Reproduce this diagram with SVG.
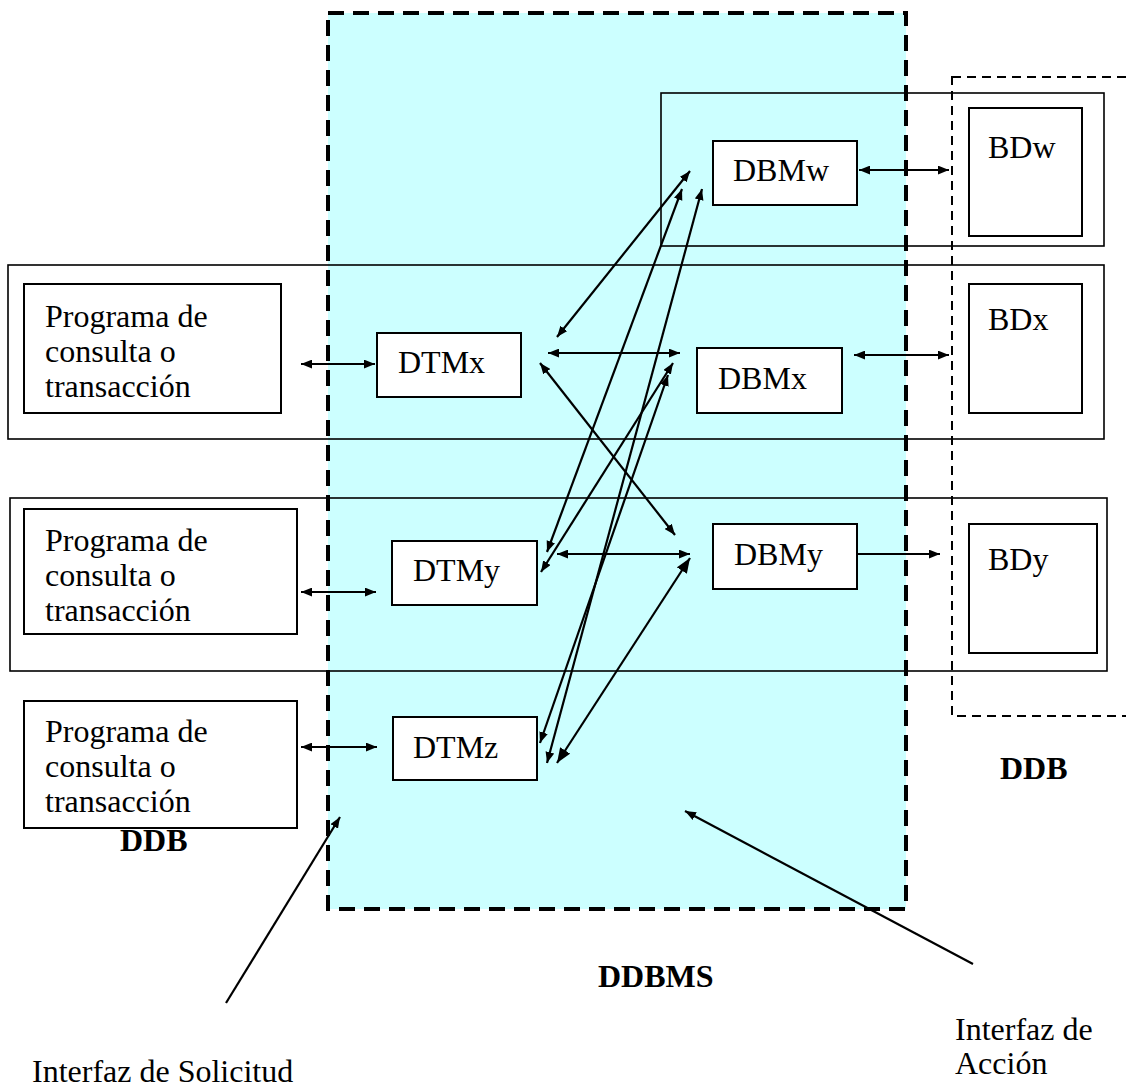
<svg xmlns="http://www.w3.org/2000/svg" width="1126" height="1089" viewBox="0 0 1126 1089">
  <defs>
    <marker id="ah" viewBox="0 0 10 8" refX="10" refY="4" markerWidth="11" markerHeight="9" markerUnits="userSpaceOnUse" orient="auto-start-reverse">
      <path d="M0,0 L10,4 L0,8 z" fill="#000"/>
    </marker>
    <marker id="ahBig" viewBox="0 0 10 8" refX="10" refY="4" markerWidth="15" markerHeight="12" markerUnits="userSpaceOnUse" orient="auto-start-reverse">
      <path d="M0,0 L10,4 L0,8 z" fill="#000"/>
    </marker>
  </defs>
  <style>
    text { font-family: "Liberation Serif", "Times New Roman", serif; font-size: 32px; fill: #000; }
    .bold { font-weight: bold; }
    .box { fill: #fff; stroke: #000; stroke-width: 2; }
    .row { fill: none; stroke: #000; stroke-width: 1.6; }
    .link { stroke: #000; stroke-width: 2.2; fill: none; }
    .both { marker-start: url(#ah); marker-end: url(#ah); }
    .one { marker-end: url(#ah); }
    .bothBig { marker-start: url(#ahBig); marker-end: url(#ahBig); }
  </style>

  <rect width="1126" height="1089" fill="#fff"/>

  <!-- DDBMS region -->
  <g id="ddbms">
    <rect x="328" y="13" width="578" height="896" fill="#ccffff"/>
  </g>

  <!-- site rows -->
  <g id="rows">
    <rect class="row" x="661" y="93" width="443" height="153"/>
    <rect class="row" x="8" y="265" width="1096" height="174"/>
    <rect class="row" x="10" y="498" width="1097" height="173"/>
  </g>

  <!-- DDB storage region (right) -->
  <g id="ddb-right">
    <rect x="952" y="77" width="220" height="639" fill="none" stroke="#000" stroke-width="2" stroke-dasharray="9 6"/>
  </g>

  <g id="prog1">
    <rect class="box" x="24" y="284" width="257" height="129"/>
    <text x="45" y="327">Programa de</text>
    <text x="45" y="362">consulta o</text>
    <text x="45" y="397">transacción</text>
  </g>
  <g id="prog2">
    <rect class="box" x="24" y="509" width="273" height="125"/>
    <text x="45" y="551">Programa de</text>
    <text x="45" y="586">consulta o</text>
    <text x="45" y="621">transacción</text>
  </g>
  <g id="prog3">
    <rect class="box" x="24" y="701" width="273" height="127"/>
    <text x="45" y="742">Programa de</text>
    <text x="45" y="777">consulta o</text>
    <text x="45" y="812">transacción</text>
  </g>

  <g id="dtmx">
    <rect class="box" x="377" y="333" width="144" height="64"/>
    <text x="398" y="373">DTMx</text>
  </g>
  <g id="dtmy">
    <rect class="box" x="392" y="541" width="145" height="64"/>
    <text x="413" y="581">DTMy</text>
  </g>
  <g id="dtmz">
    <rect class="box" x="393" y="717" width="144" height="63"/>
    <text x="413" y="758">DTMz</text>
  </g>

  <g id="dbmw">
    <rect class="box" x="713" y="141" width="144" height="64"/>
    <text x="733" y="181">DBMw</text>
  </g>
  <g id="dbmx">
    <rect class="box" x="697" y="348" width="145" height="65"/>
    <text x="718" y="389">DBMx</text>
  </g>
  <g id="dbmy">
    <rect class="box" x="713" y="524" width="144" height="65"/>
    <text x="734" y="565">DBMy</text>
  </g>

  <g id="bdw">
    <rect class="box" x="969" y="108" width="113" height="128"/>
    <text x="988" y="158">BDw</text>
  </g>
  <g id="bdx">
    <rect class="box" x="969" y="284" width="113" height="129"/>
    <text x="988" y="330">BDx</text>
  </g>
  <g id="bdy">
    <rect class="box" x="969" y="524" width="128" height="129"/>
    <text x="988" y="570">BDy</text>
  </g>

  <!-- DDBMS dashed boundary drawn over the rows -->
  <rect x="328" y="13" width="578" height="896" fill="none" stroke="#000" stroke-width="4" stroke-dasharray="16 9"/>

  <g id="connectors">
    <!-- programs to transaction managers -->
    <line class="link both" x1="301" y1="364" x2="375" y2="364"/>
    <line class="link both" x1="301" y1="592" x2="376" y2="592"/>
    <line class="link both" x1="301" y1="747" x2="377" y2="747"/>
    <!-- data managers to databases -->
    <line class="link both" x1="859" y1="170" x2="949" y2="170"/>
    <line class="link both" x1="854" y1="355" x2="949" y2="355"/>
    <line class="link one" x1="857" y1="554" x2="940" y2="554"/>
    <!-- transaction managers to data managers -->
    <line class="link both" x1="548" y1="353" x2="680" y2="353"/>
    <line class="link both" x1="557" y1="554" x2="690" y2="554"/>
    <line class="link both" x1="540" y1="363" x2="675" y2="535"/>
    <line class="link both" x1="690" y1="171" x2="557" y2="337"/>
    <line class="link both" x1="682" y1="189" x2="547" y2="552"/>
    <line class="link both" x1="702" y1="189" x2="547" y2="763"/>
    <line class="link both" x1="673" y1="363" x2="541" y2="572"/>
    <line class="link both" x1="668" y1="375" x2="540" y2="743"/>
    <line class="link bothBig" x1="690" y1="558" x2="557" y2="763"/>
    <!-- interface pointers -->
    <line class="link one" x1="226" y1="1003" x2="340" y2="817"/>
    <line class="link one" x1="973" y1="964" x2="685" y2="811"/>
  </g>

  <g id="labels">
    <text class="bold" x="120" y="851">DDB</text>
    <text class="bold" x="1000" y="779">DDB</text>
    <text class="bold" x="598" y="987">DDBMS</text>
    <text x="955" y="1040">Interfaz de</text>
    <text x="955" y="1074">Acción</text>
    <text x="32" y="1082">Interfaz de Solicitud</text>
  </g>
</svg>
